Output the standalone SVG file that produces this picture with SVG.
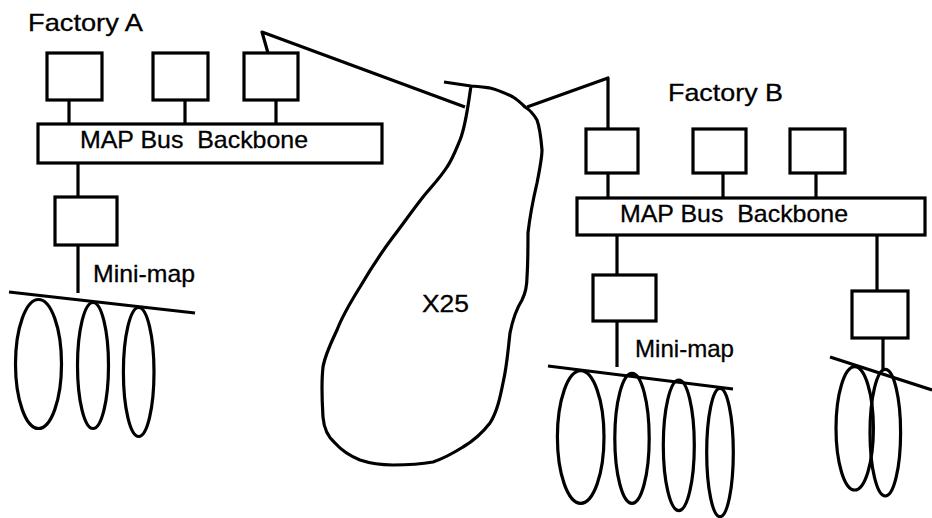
<svg xmlns="http://www.w3.org/2000/svg" width="932" height="518" viewBox="0 0 932 518">
<style>
.s{fill:none;stroke:#000;stroke-width:3.2;stroke-linejoin:round;stroke-linecap:butt}
.b{fill:#fff;stroke:#000;stroke-width:3.2}
.t{font-family:"Liberation Sans",Arial,sans-serif;font-size:24px;fill:#000;stroke:#000;stroke-width:0.3;white-space:pre}
</style>
<rect width="932" height="518" fill="#fff"/>
<g id="connectors">
<path class="s" d="M69 100V124M185 100V124M276 100V124M78 163V197M78 245V293"/>
<path class="s" d="M268 53L262 32L465 107"/>
<path class="s" d="M527 107L608 78V130"/>
<path class="s" d="M608 173V198M723 173V198M816 173V198"/>
<path class="s" d="M617 235V275M617 321V367M877 235V291M883 338V370"/>
</g>
<g id="factoryA">
<text class="t" x="28" y="31" textLength="115" lengthAdjust="spacingAndGlyphs">Factory A</text>
<rect class="b" x="47" y="53" width="55" height="47"/>
<rect class="b" x="153" y="53" width="55" height="47"/>
<rect class="b" x="244" y="53" width="54" height="47"/>
</g>
<g id="busA">
<rect class="b" x="38" y="124" width="344" height="39"/>
<text class="t" x="80" y="148" textLength="228" lengthAdjust="spacingAndGlyphs" xml:space="preserve">MAP Bus  Backbone</text>
</g>
<g id="minimapA">
<rect class="b" x="55" y="197" width="62" height="48"/>
<text class="t" x="93" y="282" textLength="102" lengthAdjust="spacingAndGlyphs">Mini-map</text>
<path class="s" d="M9 292L195 313"/>
<ellipse class="s" cx="38.5" cy="364" rx="23" ry="64.5"/>
<ellipse class="s" cx="93" cy="365.5" rx="15.5" ry="63"/>
<ellipse class="s" cx="138.7" cy="372" rx="15.3" ry="64.5"/>
</g>
<g id="x25">
<path class="s" d="M444 82L471 86C468 105 466 125 460 140C455 152 452 160 447 167C440 178 432 186 423 197C412 211 403 224 393 237C381 253 370 270 360 287C350 303 342 317 337 330C330 345 325 355 323 367C321 385 322 400 323 417C324 430 328 437 335 443C343 452 350 456 360 460C372 464 383 465 393 465C410 465 422 464 433 462C445 458 455 452 463 447C475 440 483 432 490 423C497 412 500 398 503 383C507 366 508 350 510 333C513 318 517 308 522 300C526 292 527 285 527 277C528 262 528 248 528 233C530 215 533 200 537 183C540 168 542 158 542 150C541 138 540 128 537 120C533 113 530 110 525 107C520 102 518 100 513 97C505 93 498 90 490 88C483 87 477 86 471 86"/>
<text class="t" x="422" y="312" textLength="47" lengthAdjust="spacingAndGlyphs">X25</text>
</g>
<g id="factoryB">
<text class="t" x="668" y="101" textLength="115" lengthAdjust="spacingAndGlyphs">Factory B</text>
<rect class="b" x="586" y="129" width="52" height="44"/>
<rect class="b" x="693" y="129" width="53" height="44"/>
<rect class="b" x="790" y="129" width="55" height="44"/>
</g>
<g id="busB">
<rect class="b" x="577" y="198" width="348" height="37"/>
<text class="t" x="620" y="222" textLength="228" lengthAdjust="spacingAndGlyphs" xml:space="preserve">MAP Bus  Backbone</text>
</g>
<g id="minimapB">
<rect class="b" x="593" y="275" width="63" height="46"/>
<text class="t" x="635" y="357" textLength="99" lengthAdjust="spacingAndGlyphs">Mini-map</text>
<path class="s" d="M548 366L733 389"/>
<ellipse class="s" cx="580.7" cy="437" rx="23.3" ry="66.3"/>
<ellipse class="s" cx="632" cy="438.3" rx="17.2" ry="65"/>
<ellipse class="s" cx="678.8" cy="445.3" rx="15.5" ry="65.3"/>
<ellipse class="s" cx="720" cy="452.5" rx="13.3" ry="64.2"/>
</g>
<g id="minimapB2">
<rect class="b" x="852" y="291" width="56" height="47"/>
<path class="s" d="M830 357L932 390"/>
<ellipse class="s" cx="854.7" cy="428.3" rx="18.7" ry="61.7"/>
<ellipse class="s" cx="885.3" cy="432.7" rx="15.3" ry="63.3"/>
</g>
</svg>
